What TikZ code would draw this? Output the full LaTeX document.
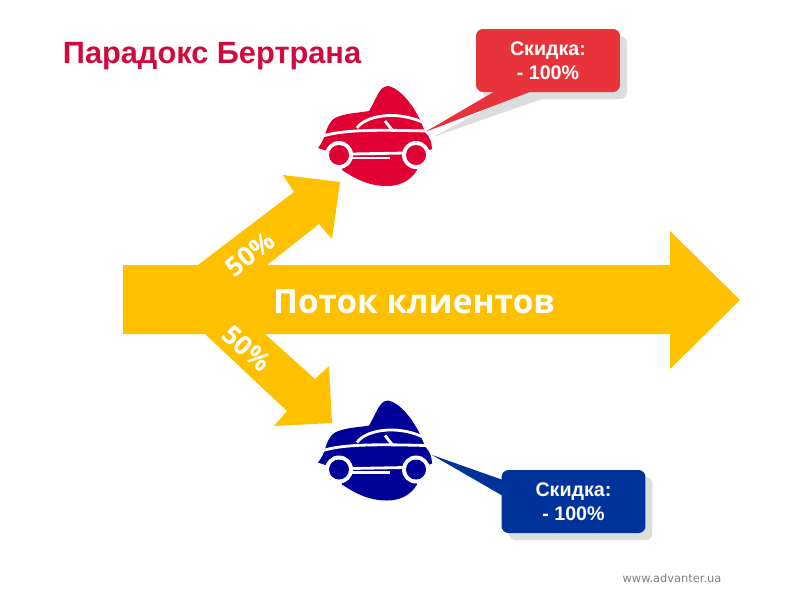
\documentclass[tikz,border=0pt]{standalone}
\usepackage{fontspec}
\setmainfont{Liberation Sans}
\newfontfamily\flowfont{Open Sans}
\newfontfamily\webfont{DejaVu Sans}
\usepackage{xcolor}
\usetikzlibrary{positioning}
\definecolor{flowyellow}{HTML}{FFC000}
\definecolor{carred}{HTML}{E00034}
\definecolor{carblue}{HTML}{000099}
\definecolor{boxred}{HTML}{E8333A}
\definecolor{boxblue}{HTML}{003399}
\definecolor{shadowgray}{HTML}{DDDDDD}
\definecolor{titlered}{HTML}{D00A3C}

\begin{document}
\begin{tikzpicture}[
    x=0.02cm, y=-0.02cm,
    flow/.style={fill=flowyellow},
    sale/.style={rectangle, rounded corners=4pt, minimum width=2.88cm, minimum height=1.26cm, inner sep=0pt, align=center, text=white, font=\fontsize{11.2}{13.8}\selectfont\bfseries},
    percent/.style={font=\flowfont\bfseries\fontsize{15}{18}\selectfont, text=white},
    trim/.style={draw=white, line width=1.6pt},
    pics/car/.style={code={
        % body
        \fill[#1] (369,111) .. controls (376,100) and (379,86) .. (388,86)
            .. controls (400,88) and (414,106) .. (421,122) -- (425,132)
            .. controls (430,137) and (432,143) .. (432,149) -- (416,155)
            -- (417,170) .. controls (410,182) and (398,186) .. (387,186)
            .. controls (368,186) and (354,178) .. (342,170) -- (339,155)
            -- (318,148) .. controls (322,143) and (324,138) .. (325,135)
            .. controls (327,127) and (331,120) .. (335,118)
            .. controls (345,113) and (358,113) .. (369,111) -- cycle;
        % roof and door line
        \draw[trim] (357,128) .. controls (365,116) and (395,110) .. (422,122);
        \draw[trim] (323,136) .. controls (345,129) and (385,130) .. (427,131);
        \draw[trim] (385,121) -- (393,131);
        % wheels
        \foreach \wheelx in {339,416} {
            \fill[white] (\wheelx,155) circle (14);
            \fill[#1] (\wheelx,155) circle (10);
        }
        % sills
        \draw[trim] (351,154) -- (405,153);
        \draw[trim] (351,158) -- (390,158);
    }},
]
\useasboundingbox (0,0) rectangle (800,600);

% Flow arrows
\fill[flow] (123,265) -- (198,265) -- (294,192) -- (283,175) -- (340,182)
    -- (332,239) -- (319,224) -- (267,265) -- (670,265) -- (670,231)
    -- (740,300) -- (670,369) -- (670,334) -- (265,334) -- (315,379)
    -- (329,366) -- (332,423) -- (274,426) -- (287,411) -- (205,334)
    -- (123,334) -- cycle;

\node[font=\flowfont\bfseries\fontsize{19}{22}\selectfont, text=white] (flowlabel) at (414,302) {Поток клиентов};
\node[percent, rotate=38] (upper) at (250,254) {50\%};
\node[percent, rotate=-42] (lower) at (247,348) {50\%};

% Title
\node[font=\fontsize{17.5}{20}\selectfont\bfseries, text=titlered] (title) at (212,56) {Парадокс Бертрана};

% Red callout
\fill[shadowgray] (433,137) -- (504,99) -- (542,99) -- cycle;
\node[sale, fill=shadowgray] (redshadow) at (555,67.5) {};
\fill[boxred] (425,132) -- (497,90) -- (535,90) -- cycle;
\node[sale, fill=boxred] (redsale) at (548,60.5) {Скидка:\\- 100\%};

% Blue callout
\fill[shadowgray] (434,456) -- (509,487) -- (509,498) -- cycle;
\node[sale, fill=shadowgray] (blueshadow) at (580.5,508.5) {};
\fill[boxblue] (432,455) -- (503,480) -- (503,496) -- cycle;
\node[sale, fill=boxblue] (bluesale) at (573.5,501.5) {Скидка:\\- 100\%};

% Cars
\pic at (0,0) {car=carred};
\pic at (0,314.5) {car=carblue};

% Site
\node[font=\webfont\fontsize{6.5}{8}\selectfont, text=gray] (site) at (672,578) {www.advanter.ua};

\end{tikzpicture}
\end{document}
